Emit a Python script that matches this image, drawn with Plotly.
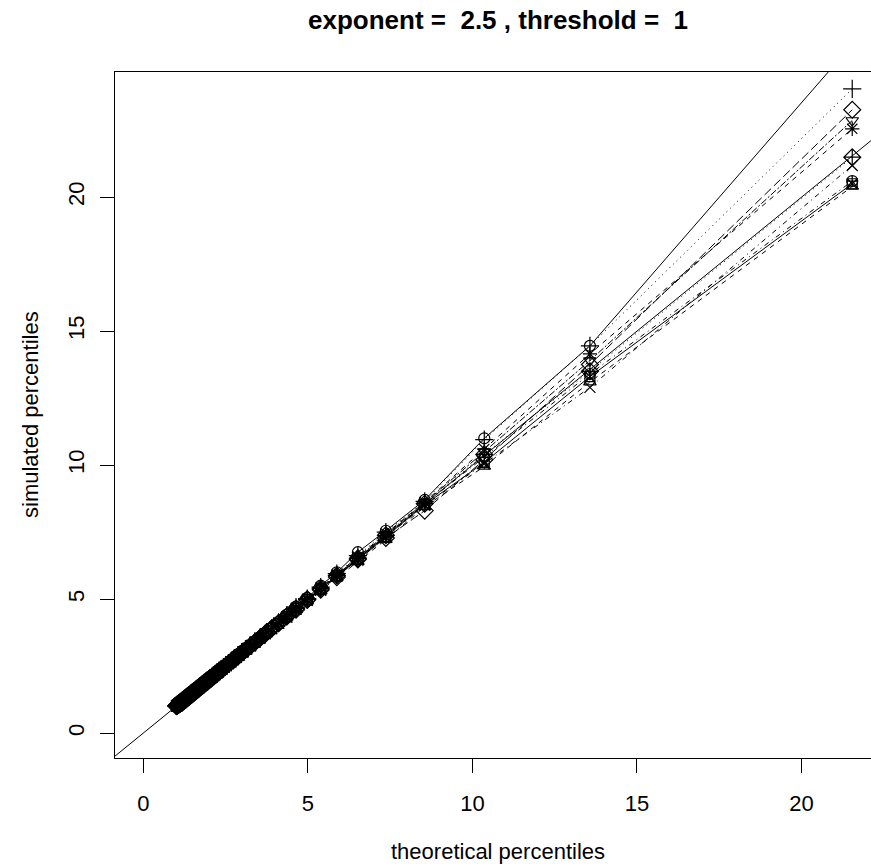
import plotly.graph_objects as go

# theoretical percentiles, p = 0.01 ... 0.99
theoretical = [
    1.01, 1.01, 1.02, 1.03, 1.03, 1.04, 1.05, 1.06, 1.06, 1.07,
    1.08, 1.09, 1.10, 1.11, 1.11, 1.12, 1.13, 1.14, 1.15, 1.16,
    1.17, 1.18, 1.19, 1.20, 1.21, 1.22, 1.23, 1.24, 1.26, 1.27,
    1.28, 1.29, 1.31, 1.32, 1.33, 1.35, 1.36, 1.38, 1.39, 1.41,
    1.42, 1.44, 1.45, 1.47, 1.49, 1.51, 1.53, 1.55, 1.57, 1.59,
    1.61, 1.63, 1.65, 1.68, 1.70, 1.73, 1.76, 1.78, 1.81, 1.84,
    1.87, 1.91, 1.94, 1.98, 2.01, 2.05, 2.09, 2.14, 2.18, 2.23,
    2.28, 2.34, 2.39, 2.45, 2.52, 2.59, 2.66, 2.74, 2.83, 2.92,
    3.03, 3.14, 3.26, 3.39, 3.54, 3.71, 3.90, 4.11, 4.36, 4.64,
    4.98, 5.39, 5.88, 6.52, 7.37, 8.55, 10.36, 13.57, 21.54,
]

# simulated percentiles: lower part sits on the diagonal (p = 0.01 ... 0.87)
n_lower = 87
sim_lower = theoretical[:n_lower]

# upper tails, p = 0.88 ... 0.99, one list per simulated sample
tail_1 = [4.15, 4.42, 4.72, 5.05, 5.50, 6.00, 6.75, 7.55, 8.70, 11.00, 14.45, 25.70]
tail_2 = [4.08, 4.32, 4.60, 4.92, 5.30, 5.80, 6.40, 7.22, 8.45, 9.95, 13.10, 20.40]
tail_3 = [4.13, 4.40, 4.70, 5.02, 5.45, 5.95, 6.62, 7.50, 8.65, 10.95, 14.45, 24.04]
tail_4 = [4.10, 4.33, 4.62, 4.95, 5.33, 5.85, 6.45, 7.30, 8.50, 10.05, 12.90, 21.18]
tail_5 = [4.10, 4.35, 4.60, 4.97, 5.35, 5.82, 6.48, 7.28, 8.30, 10.20, 13.75, 23.26]
tail_6 = [4.12, 4.38, 4.66, 5.00, 5.42, 5.90, 6.55, 7.40, 8.60, 10.50, 13.90, 22.86]
tail_7 = [4.09, 4.34, 4.63, 4.96, 5.36, 5.86, 6.50, 7.33, 8.52, 10.10, 13.30, 20.50]
tail_8 = [4.12, 4.37, 4.68, 5.01, 5.44, 5.92, 6.58, 7.45, 8.62, 10.60, 14.15, 22.55]
tail_9 = [4.11, 4.36, 4.65, 4.99, 5.40, 5.88, 6.52, 7.38, 8.56, 10.40, 13.50, 21.49]
tail_10 = [4.10, 4.35, 4.64, 4.98, 5.38, 5.87, 6.50, 7.35, 8.55, 10.30, 13.40, 20.60]

tails = [tail_1, tail_2, tail_3, tail_4, tail_5, tail_6, tail_7, tail_8, tail_9, tail_10]

symbols = ["circle-open", "triangle-up-open", "cross-thin-open", "x-thin-open",
           "diamond-open", "triangle-down-open", "square-x-open", "asterisk-open",
           "diamond-cross-open", "circle-cross-open"]
sizes = [11, 11, 13, 11, 13, 11, 10, 12, 13, 11]
dashes = ["solid", "5px,5px", "1px,4px", "1px,4px,5px,4px", "9px,4px",
          "2px,2px,7px,2px", "solid", "5px,5px", "1px,4px", "1px,4px,5px,4px"]

x_range = [-0.86, 22.11]
y_range = [-0.93, 24.67]
x_ticks = [0, 5, 10, 15, 20]
y_ticks = [0, 5, 10, 15, 20]

title_text = "exponent =  2.5 , threshold =  1"
x_title = "theoretical percentiles"
y_title = "simulated percentiles"

FONT = "Liberation Sans, Arial, Helvetica, sans-serif"

fig = go.Figure()

# identity reference line across the whole plotting region
fig.add_trace(go.Scatter(
    x=x_range, y=x_range, mode="lines",
    line=dict(color="black", width=1), hoverinfo="skip", showlegend=False,
))

for i, tail in enumerate(tails):
    fig.add_trace(go.Scatter(
        x=theoretical,
        y=list(sim_lower) + tail,
        mode="lines+markers",
        line=dict(color="black", width=1, dash=dashes[i]),
        marker=dict(symbol=symbols[i], size=sizes[i], color="black",
                    line=dict(color="black", width=1.2)),
        showlegend=False,
    ))

axis_common = dict(
    showgrid=False, zeroline=False, showline=True, linecolor="black", linewidth=1,
    ticks="outside", ticklen=14, tickwidth=1, tickcolor="black",
    tickfont=dict(family=FONT, size=22, color="black"),
)

fig.update_layout(
    width=871, height=867,
    margin=dict(l=115, r=0, t=72, b=109),
    paper_bgcolor="white", plot_bgcolor="white",
    showlegend=False,
    xaxis=dict(range=x_range, tickvals=x_ticks, mirror=True,
               ticklabelstandoff=12, **axis_common),
    yaxis=dict(range=y_range, tickvals=y_ticks, tickangle=-90, mirror=False,
               ticklabelstandoff=7, **axis_common),
    annotations=[
        dict(text="<b>" + title_text + "</b>", xref="paper", yref="paper",
             x=0.507, y=1 + (72 - 20) / 686.0, xanchor="center", yanchor="middle",
             showarrow=False, font=dict(family=FONT, size=26, color="black")),
        dict(text=x_title, xref="paper", yref="paper",
             x=0.507, y=-(851 - 757.7) / 686.0, xanchor="center", yanchor="middle",
             showarrow=False, font=dict(family=FONT, size=22, color="black")),
        dict(text=y_title, xref="paper", yref="paper", textangle=-90,
             x=(30 - 115) / 756.0, y=0.5, xanchor="center", yanchor="middle",
             showarrow=False, font=dict(family=FONT, size=22, color="black")),
    ],
)

fig.write_html(
    "out.html",
    config={"displayModeBar": False},
    post_script="document.body.style.margin='0';document.body.style.overflow='hidden';",
)
